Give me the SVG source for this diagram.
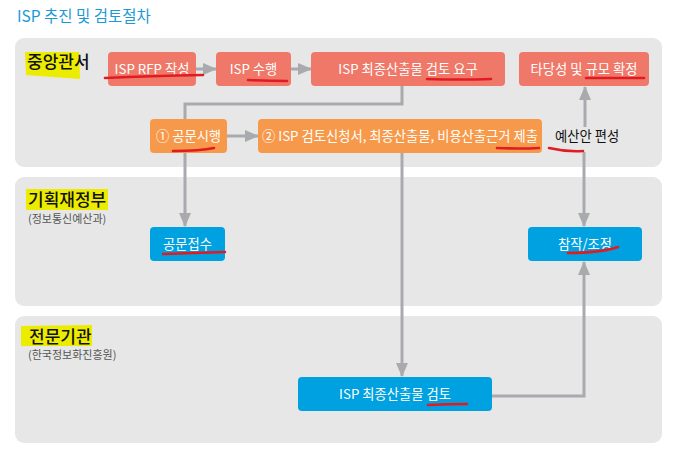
<svg xmlns="http://www.w3.org/2000/svg" width="679" height="456" viewBox="0 0 679 456">
  <style>
    text { font-family: "Noto Sans CJK KR", "Noto Sans", sans-serif; }
    .title { font-size: 15.5px; fill: #1b9ad6; }
    .lane { fill: #e7e7e7; }
    .lbl { font-size: 17px; font-weight: 500; fill: #111; }
    .sub { font-size: 11px; fill: #555; }
    .hl { fill: #ecec00; }
    .red { fill: #f07868; }
    .org { fill: #f7994a; }
    .blu { fill: #00a1e0; }
    .nt { font-size: 13.3px; fill: #fff; text-anchor: middle; }
    .conn { fill: none; stroke: #a9aaad; stroke-width: 3; }
    .mark { fill: none; stroke: #e11b22; stroke-width: 2.6; stroke-linecap: round; }
  </style>
  <defs>
    <marker id="ah" markerWidth="14" markerHeight="12" refX="13" refY="6" orient="auto" markerUnits="userSpaceOnUse">
      <path d="M0,0 L14,6 L0,12 Z" fill="#a9aaad"/>
    </marker>
  </defs>

  <rect width="679" height="456" fill="#fff"/>
  <text class="title" x="17" y="22">ISP 추진 및 검토절차</text>

  <!-- swim lanes -->
  <g id="lanes">
    <rect class="lane" x="15" y="38" width="647" height="129" rx="9"/>
    <rect class="lane" x="15" y="177" width="647" height="129" rx="9"/>
    <rect class="lane" x="15" y="316" width="647" height="127" rx="9"/>
  </g>

  <!-- lane labels with highlighter -->
  <g id="lane-labels">
    <path class="hl" d="M25,52 L79,52 L80,79 L26,75 Z"/>
    <text class="lbl" x="27" y="68">중앙관서</text>
    <path class="hl" d="M26,189 L108,189 L108,210 L26,210 Z"/>
    <text class="lbl" x="28" y="206">기획재정부</text>
    <text class="sub" x="28" y="223">(정보통신예산과)</text>
    <path class="hl" d="M21,326 L92,325 L92,346 L21,346 Z"/>
    <text class="lbl" x="29" y="343">전문기관</text>
    <text class="sub" x="28" y="359">(한국정보화진흥원)</text>
  </g>

  <!-- connectors -->
  <g id="connectors">
    <path class="conn" d="M196,69 H216" marker-end="url(#ah)"/>
    <path class="conn" d="M291,69 H311" marker-end="url(#ah)"/>
    <path class="conn" d="M402,86 V104 H185 V226" marker-end="url(#ah)"/>
    <path class="conn" d="M227,136 H258" marker-end="url(#ah)"/>
    <path class="conn" d="M402,153 V376" marker-end="url(#ah)"/>
    <path class="conn" d="M492,396 H584 V262" marker-end="url(#ah)"/>
    <path class="conn" d="M584,152 V226" marker-end="url(#ah)"/>
    <path class="conn" d="M585,127 V87" marker-end="url(#ah)"/>
  </g>

  <!-- nodes -->
  <g id="n-rfp">
    <rect class="red" x="108" y="52" width="88" height="34" rx="4"/>
    <text class="nt" x="152" y="73.5">ISP RFP 작성</text>
  </g>
  <g id="n-perform">
    <rect class="red" x="216" y="52" width="75" height="34" rx="4"/>
    <text class="nt" x="253.5" y="73.5">ISP 수행</text>
  </g>
  <g id="n-request">
    <rect class="red" x="311" y="52" width="194" height="34" rx="4"/>
    <text class="nt" x="408" y="73.5">ISP 최종산출물 검토 요구</text>
  </g>
  <g id="n-confirm">
    <rect class="red" x="519" y="52" width="130" height="34" rx="4"/>
    <text class="nt" x="584" y="73.5">타당성 및 규모 확정</text>
  </g>
  <g id="n-notice">
    <rect class="org" x="150" y="119" width="77" height="34" rx="4"/>
    <text class="nt" x="188.5" y="140.5">① 공문시행</text>
  </g>
  <g id="n-submit">
    <rect class="org" x="258" y="119" width="284" height="34" rx="4"/>
    <text class="nt" x="400" y="140.5">② ISP 검토신청서, 최종산출물, 비용산출근거 제출</text>
  </g>
  <g id="n-budget">
    <text x="555" y="141" font-size="13.3" fill="#111">예산안 편성</text>
  </g>
  <g id="n-receive">
    <rect class="blu" x="150" y="227" width="75" height="34" rx="4"/>
    <text class="nt" x="187.5" y="248.5">공문접수</text>
  </g>
  <g id="n-adjust">
    <rect class="blu" x="528" y="227" width="114" height="34" rx="4"/>
    <text class="nt" x="585" y="248.5">참작/조정</text>
  </g>
  <g id="n-review">
    <rect class="blu" x="298" y="377" width="194" height="34" rx="4"/>
    <text class="nt" x="395" y="398.5">ISP 최종산출물 검토</text>
  </g>

  <!-- hand-drawn red underlines -->
  <g id="marks">
    <path class="mark" d="M105,78 Q150,76 203,75"/>
    <path class="mark" d="M248,80 Q268,81 287,81"/>
    <path class="mark" d="M427,79 Q460,80 491,79"/>
    <path class="mark" d="M586,78 Q615,78 644,78"/>
    <path class="mark" d="M173,151 Q200,151 214,148"/>
    <path class="mark" d="M497,148 Q520,149 539,148"/>
    <path class="mark" d="M549,148 Q566,152 583,151"/>
    <path class="mark" d="M163,254 Q195,253 225,252"/>
    <path class="mark" d="M568,253 Q600,253 618,247"/>
    <path class="mark" d="M428,405 Q448,404 467,404"/>
  </g>
</svg>
